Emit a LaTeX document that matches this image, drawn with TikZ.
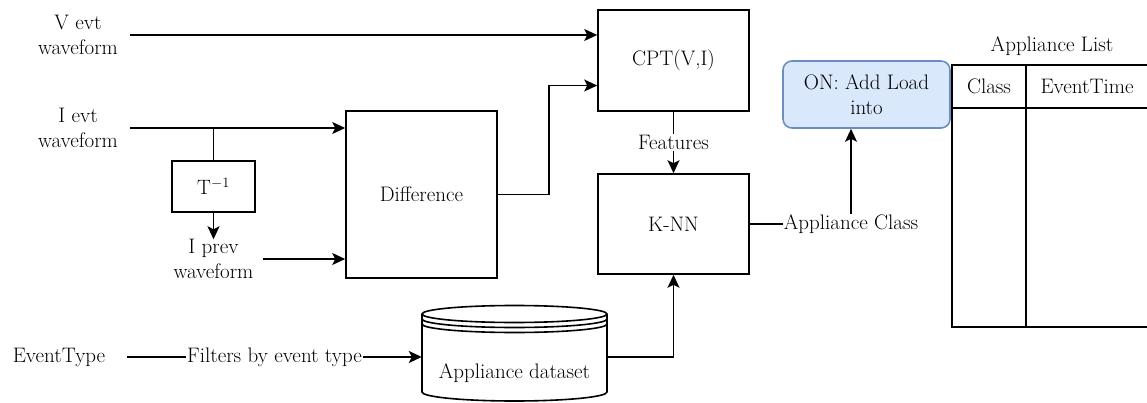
\documentclass[tikz,border=0pt]{standalone}
\usetikzlibrary{arrows.meta}
\definecolor{onfill}{HTML}{DAE8FC}
\definecolor{ondraw}{HTML}{6C8EBF}
\begin{document}
\begin{tikzpicture}[x=1pt,y=-1pt,
  every node/.style={font=\fontsize{21}{24.5}\selectfont},
  box/.style={draw,line width=1.6pt,inner sep=0pt},
  ln/.style={line width=1.6pt},
  arr/.style={line width=1.6pt,-{Stealth[length=13pt,width=12pt,inset=3pt]}},
  lbl/.style={fill=white,inner sep=1pt,align=center},
  txt/.style={align=center,inner sep=0pt}]
\useasboundingbox (0,0) rectangle (1147,403);
% boxes
\node[box,minimum width=151pt,minimum height=101pt] (cpt) at (673.5,60.5) {CPT(V,I)};
\node[box,minimum width=151pt,minimum height=167pt] (diff) at (421.5,194.5) {Difference};
\node[box,minimum width=151pt,minimum height=100pt] (knn) at (673.5,224) {K-NN};
\node[box,minimum width=83pt,minimum height=51pt] (tinv) at (213.5,186.5) {$\mathrm{T}^{-1}$};
\node[draw=ondraw,fill=onfill,rounded corners=9pt,line width=1.6pt,minimum width=167pt,minimum height=67pt,align=center,inner sep=0pt] (on) at (866.5,94.5) {ON: Add Load\\into};
% text nodes
\node[txt,minimum width=104pt] (vevt) at (78,35) {V evt\\waveform};
\node[txt,minimum width=104pt] (ievt) at (78,128) {I evt\\waveform};
\node[txt,minimum width=98pt] (iprev) at (213.5,259) {I prev\\waveform};
\node[txt,minimum width=136pt] (evt) at (59,357) {EventType};
% datastore
\node[minimum width=185pt,minimum height=96pt,inner sep=0pt] (ds) at (514.5,357) {};
\draw[ln,fill=white] (422,314) -- (422,392) arc[start angle=180,end angle=360,x radius=92.5pt,y radius=9pt] -- (607,314);
\draw[ln,fill=white] (514.5,314) ellipse[x radius=92.5pt,y radius=8.5pt];
\draw[ln] (422,319) arc[start angle=180,end angle=360,x radius=92.5pt,y radius=8.5pt];
\draw[ln] (422,324) arc[start angle=180,end angle=360,x radius=92.5pt,y radius=8.5pt];
\node (dstxt) at (514.5,373) {Appliance dataset};
% table
\node (tt) at (1052,46) {Appliance List};
\node[box,minimum width=74pt,minimum height=43pt] (cls) at (989,86.5) {Class};
\node[box,minimum width=122pt,minimum height=43pt] (et) at (1087,86.5) {EventTime};
\node[box,minimum width=74pt,minimum height=219pt] (clsb) at (989,217.5) {};
\node[box,minimum width=122pt,minimum height=219pt] (etb) at (1087,217.5) {};
% connectors
\draw[arr] (vevt.east) -- (vevt.east -| cpt.west);
\draw[arr] (ievt.east) -- (ievt.east -| diff.west);
\coordinate (br) at (tinv.north |- ievt.east);
\draw[ln] (br) -- (tinv.north);
\draw[arr] (tinv.south) -- (tinv.south |- iprev.north);
\draw[arr] (iprev.east) -- (iprev.east -| diff.west);
\coordinate (cptin) at ([yshift=-25pt]cpt.west);
\draw[arr] (diff.east) -- ++(51,0) |- (cptin);
\draw[arr] (cpt.south) -- node[lbl] (feat) {Features} (knn.north);
\coordinate (acc) at (851,224);
\draw[arr] (knn.east) -- (acc) node[lbl] (acl) {Appliance Class} -- (acc |- on.south);
\draw[arr] (ds.east) -| (knn.south);
\draw[arr] (evt.east) -- node[lbl] (filt) {Filters by event type} (ds.west);
\end{tikzpicture}
\end{document}
